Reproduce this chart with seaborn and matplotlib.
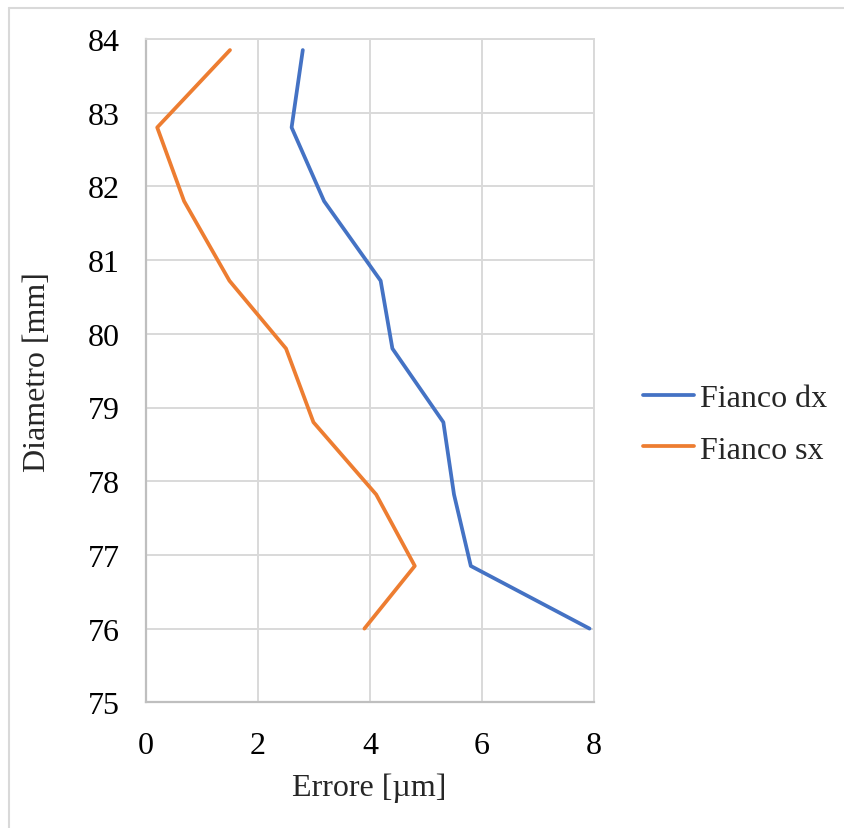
import matplotlib
matplotlib.use("Agg")
import matplotlib.pyplot as plt
from matplotlib.lines import Line2D
import pandas as pd
import seaborn as sns

# Diameter positions along the flank [mm]
diametro = [83.85, 82.8, 81.8, 80.72, 79.8, 78.8, 77.82, 76.85, 76.0]
# Profile error on each flank [µm]
fianco_dx = [2.80, 2.60, 3.18, 4.19, 4.40, 5.31, 5.50, 5.80, 7.92]
fianco_sx = [1.50, 0.20, 0.68, 1.49, 2.50, 2.99, 4.11, 4.80, 3.90]
serie = ["Fianco dx", "Fianco sx"]
x_ticks = [0, 2, 4, 6, 8]
y_ticks = [75, 76, 77, 78, 79, 80, 81, 82, 83, 84]

colori = ["#4472C4", "#ED7D31"]

df = pd.DataFrame({
    "Diametro": diametro * 2,
    "Errore": fianco_dx + fianco_sx,
    "Serie": [serie[0]] * len(diametro) + [serie[1]] * len(diametro),
})

sns.set_theme(style="white")
plt.rcParams["font.family"] = ["Liberation Serif", "DejaVu Serif"]

FS = 23
LW = 2.7

fig = plt.figure(figsize=(8.44, 8.29), dpi=100)
ax = fig.add_axes([146 / 844, 1 - 703.3 / 829, 448 / 844, 663.3 / 829])

sns.lineplot(data=df, x="Errore", y="Diametro", hue="Serie", sort=False,
             palette=colori, linewidth=LW, ax=ax, legend=False, estimator=None)

ax.set_xlim(0, 8)
ax.set_ylim(75, 84)
ax.set_xticks(x_ticks)
ax.set_yticks(y_ticks)
ax.grid(True, color="#d9d9d9", linewidth=1.4)
ax.set_axisbelow(True)
for side in ["top", "right"]:
    ax.spines[side].set_color("#d9d9d9")
    ax.spines[side].set_linewidth(1.4)
for side in ["left", "bottom"]:
    ax.spines[side].set_color("#bfbfbf")
    ax.spines[side].set_linewidth(1.6)
ax.tick_params(axis="both", length=0, labelsize=FS, colors="black")
ax.tick_params(axis="y", pad=19)
ax.tick_params(axis="x", pad=21)

ax.set_xlabel("Errore [µm]", fontsize=FS)
ax.set_ylabel("Diametro [mm]", fontsize=FS)
ax.xaxis.set_label_coords(0.498, -0.128)
ax.xaxis.label.set_verticalalignment("center")
ax.yaxis.set_label_coords(-0.242, 0.5)
ax.yaxis.label.set_verticalalignment("center")

handles = [Line2D([], [], color=c, linewidth=LW) for c in colori]
fig.legend(handles, serie, loc="center left", bbox_to_anchor=(614 / 844, 1 - 425 / 829),
           frameon=False, fontsize=FS, handlelength=1.6, handletextpad=0.18,
           labelspacing=0.7)

# chart-area frame
fig.add_artist(Line2D([8.5 / 844, 8.5 / 844], [0, 1 - 9 / 829], transform=fig.transFigure,
                      color="#d9d9d9", linewidth=1.5))
fig.add_artist(Line2D([8.5 / 844, 1], [1 - 9 / 829, 1 - 9 / 829], transform=fig.transFigure,
                      color="#d9d9d9", linewidth=1.5))

fig.savefig("out.png", dpi=100, facecolor="white")
